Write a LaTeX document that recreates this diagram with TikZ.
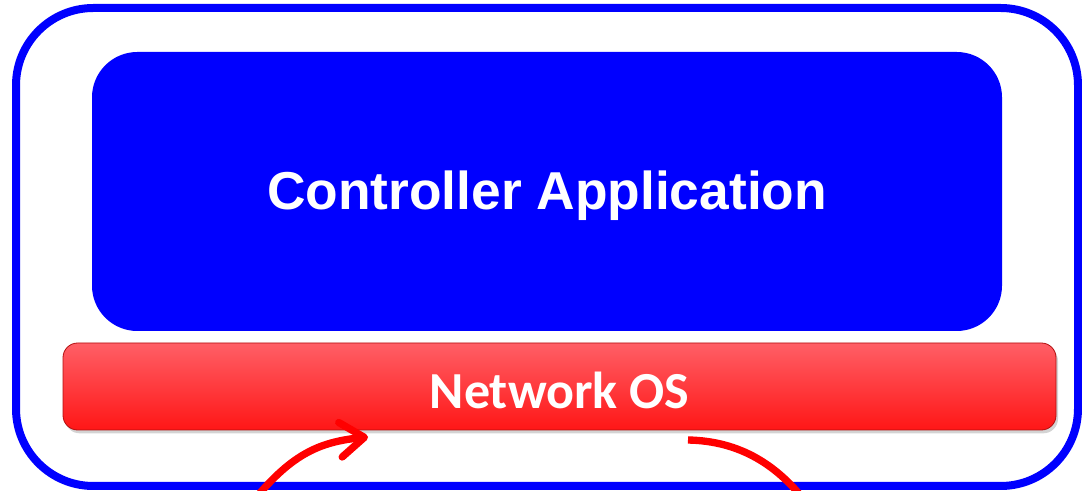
\documentclass[tikz,border=0pt]{standalone}
\usepackage{fontspec}
\usetikzlibrary{arrows.meta,shadows}
\newfontfamily\arialbold{Liberation Sans}
\newfontfamily\calibri{Carlito}

\definecolor{pureblue}{RGB}{0,0,255}
\definecolor{nostop}{RGB}{255,95,102}
\definecolor{nosbottom}{RGB}{255,22,22}
\definecolor{arrowred}{RGB}{255,0,0}

\tikzset{
  frame/.style={draw=pureblue, line width=6pt, rounded corners=58pt,
    minimum width=796.5pt, minimum height=358.5pt, inner sep=0pt},
  appbox/.style={fill=pureblue, rounded corners=34pt, minimum width=682.5pt,
    minimum height=209.25pt, inner sep=0pt, text=white,
    text height=27.75pt, text depth=0pt,
    font=\arialbold\bfseries\fontsize{40}{44}\selectfont},
  nosbar/.style={top color=nostop, bottom color=nosbottom, draw=nosbottom!70!black,
    line width=0.6pt, rounded corners=11pt, minimum width=744.75pt,
    minimum height=65.25pt, inner sep=0pt, text=white,
    text height=33.75pt, text depth=0pt,
    drop shadow={shadow xshift=1.5pt, shadow yshift=-2.5pt, opacity=0.35},
    font=\calibri\bfseries\fontsize{39}{44}\selectfont},
  flow/.style={draw=arrowred, line width=5.5pt}
}

\begin{document}
\begin{tikzpicture}[x=0.75pt,y=0.75pt,yscale=-1,xscale=1]
\useasboundingbox (0,0) rectangle (1082,491);
\clip (0,0) rectangle (1082,491);

%Outer controller frame
\node[frame] (ctrl) at (547,247) {};
%Controller application
\node[appbox] (app) at (547,191.5) {Controller Application};
%Network OS bar
\node[nosbar] (nos) at (559.5,386.5) {Network OS};

%Arrow ends
\coordinate (upin) at (250,505);
\coordinate (uptip) at (368,437);
\coordinate (downout) at (688,440);
\coordinate (downend) at (808,505);

%Flows in and out of the network OS
\draw[flow, -{Straight Barb[length=18pt,width=26pt,round]}]
  (upin) .. controls (290,455) and (318,442) .. (uptip);
\draw[flow] (downout) .. controls (740,441) and (778,465) .. (downend);

\end{tikzpicture}
\end{document}
